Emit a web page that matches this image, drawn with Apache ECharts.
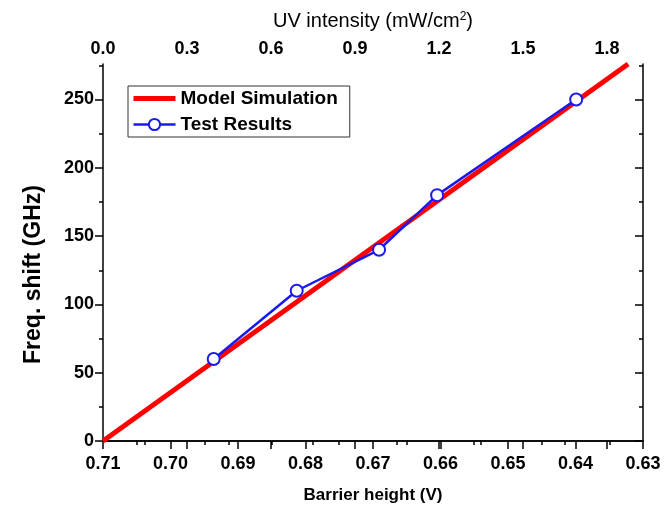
<!DOCTYPE html>
<html>
<head>
<meta charset="utf-8">
<script src="https://cdn.jsdelivr.net/npm/echarts@6/dist/echarts.min.js"></script>
<style>html,body{margin:0;padding:0;background:#fff}#c{width:664px;height:506px}</style>
</head>
<body>
<div id="c"></div>
<script>
// Data
const testBarrier = [0.6936, 0.6813, 0.6691, 0.6605, 0.6399];
const testShift = [60, 110, 140, 180, 250];
const modelBarrier = [0.71, 0.6322];
const modelShift = [0, 276];

// Axis ticks
const barrierMajor = [0.71, 0.70, 0.69, 0.68, 0.67, 0.66, 0.65, 0.64, 0.63];
const barrierMinor = [0.705, 0.695, 0.685, 0.675, 0.665, 0.655, 0.645, 0.635];
const uvMajor = [0.0, 0.3, 0.6, 0.9, 1.2, 1.5, 1.8];
const uvMinor = [0.15, 0.45, 0.75, 1.05, 1.35, 1.65];
const shiftMajor = [0, 50, 100, 150, 200, 250];
const shiftMinor = [25, 75, 125, 175, 225, 275];

const FONT = 'Liberation Sans, Arial, sans-serif';
const line = {show: true, lineStyle: {color: '#000', width: 1.5}};
const noLine = {show: false};
const tickLbl = {fontFamily: FONT, fontWeight: 'bold', fontSize: 18, color: '#000'};

const chart = echarts.init(document.getElementById('c'));
chart.setOption({
  animation: false,
  backgroundColor: '#fff',
  grid: {left: 103, right: 21, top: 64, bottom: 65, containLabel: false, outerBoundsMode: 'none'},
  legend: {
    orient: 'vertical', left: 128, top: 86,
    borderColor: '#333', borderWidth: 1, borderRadius: 0,
    padding: [3, 12, 3, 3], itemGap: 7, itemWidth: 42, itemHeight: 14,
    textStyle: {fontFamily: FONT, fontWeight: 'bold', fontSize: 19, color: '#000'},
    data: [
      {name: 'Model Simulation', itemStyle: {opacity: 0}, lineStyle: {color: '#ff0000', width: 5}},
      {name: 'Test Results', lineStyle: {color: '#1a1aee', width: 2.5}, itemStyle: {color: '#fff', borderColor: '#1a1aee', borderWidth: 2}}
    ]
  },
  xAxis: [
    {type: 'value', position: 'bottom', min: 0.63, max: 0.71, inverse: true,
     name: 'Barrier height (V)', nameLocation: 'middle', nameGap: 46,
     nameTextStyle: {fontFamily: FONT, fontWeight: 'bold', fontSize: 17, color: '#000'},
     axisLine: line, splitLine: {show: false},
     axisTick: {show: true, inside: false, length: 8, customValues: barrierMajor, lineStyle: {color: '#000', width: 1.5}},
     axisLabel: Object.assign({customValues: barrierMajor, margin: 14, formatter: v => v.toFixed(2)}, tickLbl)},
    {type: 'value', position: 'top', min: 0, max: 1.9286,
     name: '{t|UV intensity (mW/cm}{s|2}{t|)}', nameLocation: 'middle', nameGap: 33,
     nameTextStyle: {fontFamily: FONT, fontSize: 20, color: '#000',
       rich: {t: {fontFamily: FONT, fontSize: 20, color: '#000'},
              s: {fontFamily: FONT, fontSize: 12, color: '#000', verticalAlign: 'top', padding: [0, 0, 8, 0]}}},
     axisLine: line, splitLine: {show: false},
     axisTick: {show: true, inside: true, length: 8, customValues: uvMajor, lineStyle: {color: '#000', width: 1.5}},
     axisLabel: Object.assign({customValues: uvMajor, margin: 6, formatter: v => v.toFixed(1)}, tickLbl)},
    {type: 'value', position: 'top', min: 0, max: 1.9286,
     axisLine: noLine, splitLine: {show: false}, axisLabel: {show: false},
     axisTick: {show: true, inside: true, length: 4, customValues: uvMinor, lineStyle: {color: '#000', width: 1.5}}},
    {type: 'value', position: 'bottom', min: 0.63, max: 0.71, inverse: true,
     axisLine: noLine, splitLine: {show: false}, axisLabel: {show: false},
     axisTick: {show: true, inside: false, length: 4, customValues: barrierMinor, lineStyle: {color: '#000', width: 1.5}}}
  ],
  yAxis: [
    {type: 'value', position: 'left', min: 0, max: 276,
     name: 'Freq. shift (GHz)', nameLocation: 'middle', nameGap: 58,
     nameTextStyle: {fontFamily: FONT, fontWeight: 'bold', fontSize: 23, color: '#000', padding: [0, 44, 0, 0]},
     axisLine: line, splitLine: {show: false},
     axisTick: {show: true, inside: false, length: 8, customValues: shiftMajor, lineStyle: {color: '#000', width: 1.5}},
     axisLabel: Object.assign({customValues: shiftMajor, margin: 9}, tickLbl)},
    {type: 'value', position: 'left', min: 0, max: 276,
     axisLine: noLine, splitLine: {show: false}, axisLabel: {show: false},
     axisTick: {show: true, inside: false, length: 4, customValues: shiftMinor, lineStyle: {color: '#000', width: 1.5}}},
    {type: 'value', position: 'right', min: 0, max: 276,
     axisLine: line, splitLine: {show: false}, axisLabel: {show: false},
     axisTick: {show: true, inside: true, length: 8, customValues: shiftMajor, lineStyle: {color: '#000', width: 1.5}}},
    {type: 'value', position: 'right', min: 0, max: 276,
     axisLine: noLine, splitLine: {show: false}, axisLabel: {show: false},
     axisTick: {show: true, inside: true, length: 4, customValues: shiftMinor, lineStyle: {color: '#000', width: 1.5}}}
  ],
  series: [
    {name: 'Model Simulation', type: 'line', xAxisIndex: 0, yAxisIndex: 0,
     data: modelBarrier.map((b, i) => [b, modelShift[i]]),
     symbol: 'none', lineStyle: {color: '#ff0000', width: 5}, itemStyle: {color: '#ff0000'}, z: 2},
    {name: 'Test Results', type: 'line', xAxisIndex: 0, yAxisIndex: 0,
     data: testBarrier.map((b, i) => [b, testShift[i]]),
     symbol: 'circle', symbolSize: 12,
     lineStyle: {color: '#1a1aee', width: 2.5},
     itemStyle: {color: '#fff', borderColor: '#1a1aee', borderWidth: 2}, z: 3}
  ]
});
</script>
</body>
</html>
